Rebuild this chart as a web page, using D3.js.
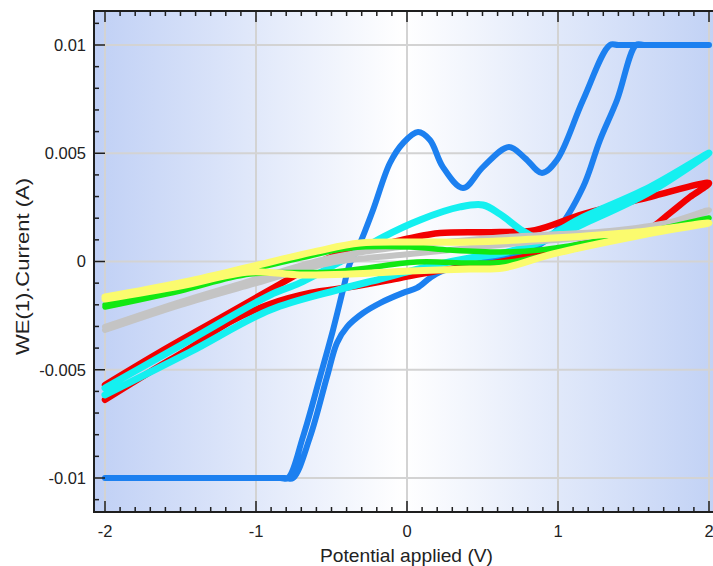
<!DOCTYPE html>
<html><head><meta charset="utf-8">
<script src="https://cdn.jsdelivr.net/npm/d3@7"></script>
<style>body{margin:0;background:#fff}svg{display:block}</style>
</head><body>
<svg id="chart" width="713" height="566"></svg>
<script>
// ---- data (Potential V, Current A), each series is one closed CV loop ----
const blueV = [-2.000,-0.841,-0.788,-0.689,-0.576,-0.490,-0.424,-0.377,-0.311,-0.225,-0.113,-0.026,0.073,0.152,0.238,0.371,0.503,0.675,0.781,0.894,0.993,1.166,1.344,1.400,2.000,
               1.570,1.517,1.391,1.278,1.166,0.993,0.815,0.616,0.417,0.219,0.152,0.066,-0.026,-0.179,-0.291,-0.397,-0.464,-0.530,-0.642,-0.755,-0.808,-2.000];
const blueI = [-0.0100,-0.0100,-0.0100,-0.00810,-0.00533,-0.00316,-0.00132,-0.00007,0.00085,0.00238,0.00455,0.00547,0.00598,0.00561,0.00436,0.00339,0.00436,0.00529,0.00478,0.00409,0.00469,0.00746,0.0100,0.0100,0.0100,
               0.0100,0.0100,0.00746,0.00561,0.00344,0.00145,0.00053,0.00016,-0.00016,-0.00048,-0.00076,-0.00122,-0.00145,-0.00192,-0.00238,-0.00302,-0.00376,-0.00533,-0.00810,-0.0100,-0.0100,-0.0100];

const redV = [-2.000,-1.636,-1.238,-0.841,-0.576,-0.377,-0.179,0.020,0.219,0.616,0.848,1.166,1.609,2.000,
              1.874,1.742,1.589,1.344,1.079,0.748,0.530,0.238,-0.046,-0.377,-0.642,-0.907,-1.172,-1.437,-1.702,-2.000];
const redI = [-0.00570,-0.00418,-0.00261,-0.00104,-0.00002,0.00053,0.00076,0.00108,0.00132,0.00136,0.00145,0.00219,0.00298,0.00362,
              0.00298,0.00224,0.00145,0.00113,0.00067,0.00016,-0.00012,-0.00039,-0.00076,-0.00118,-0.00145,-0.00196,-0.00279,-0.00399,-0.00510,-0.00639];

const cyanV = [-2.000,-1.437,-0.907,-0.709,-0.444,-0.159,0.086,0.351,0.503,0.616,0.768,0.881,1.166,1.609,2.000,
               1.609,1.166,0.927,0.636,0.417,0.152,-0.026,-0.179,-0.464,-0.907,-1.437,-2.000];
const cyanI = [-0.00584,-0.00363,-0.00155,-0.00099,-0.00002,0.00113,0.00192,0.00252,0.00261,0.00219,0.00141,0.00108,0.00205,0.00344,0.00501,
               0.00321,0.00173,0.00099,0.00039,0.00016,-0.00021,-0.00053,-0.00081,-0.00132,-0.00224,-0.00418,-0.00616];

const grayV = [-2.000,-1.503,-1.040,-0.510,-0.046,0.550,1.013,1.344,1.742,2.000,
               1.742,1.278,0.748,0.285,-0.046,-0.510,-1.040,-1.503,-2.000];
const grayI = [-0.00302,-0.00187,-0.00090,0.00016,0.00067,0.00108,0.00127,0.00141,0.00182,0.00238,
               0.00159,0.00118,0.00085,0.00053,0.00030,-0.00007,-0.00108,-0.00201,-0.00316];

const greenV = [-2.000,-1.503,-1.040,-0.709,-0.377,0.020,0.285,0.616,0.881,1.298,1.675,2.000,
                1.411,1.079,0.682,0.417,0.066,-0.490,-1.040,-1.503,-2.000];
const greenI = [-0.00201,-0.00122,-0.00039,0.00016,0.00062,0.00067,0.00053,0.00044,0.00053,0.00099,0.00150,0.00201,
                0.00108,0.00053,-0.00002,-0.00007,-0.00002,-0.00048,-0.00058,-0.00136,-0.00210];

const yellowV = [-2.000,-1.503,-1.040,-0.596,-0.311,0.020,0.417,0.967,1.523,2.000,
                 1.523,0.967,0.636,0.417,0.020,-0.377,-0.709,-1.040,-1.503,-2.000];
const yellowI = [-0.00164,-0.00099,-0.00025,0.00048,0.00085,0.00090,0.00090,0.00108,0.00136,0.00178,
                 0.00118,0.00035,-0.00030,-0.00035,-0.00044,-0.00058,-0.00062,-0.00048,-0.00113,-0.00173];

const xTickVals = [-2,-1,0,1,2];
const xTickLabels = ["-2","-1","0","1","2"];
const yTickVals = [0.01,0.005,0,-0.005,-0.01];
const yTickLabels = ["0.01","0.005","0","-0.005","-0.01"];
const xTitle = "Potential applied (V)";
const yTitle = "WE(1).Current (A)";

// ---- layout ----
const svg = d3.select("#chart");
const x = d3.scaleLinear().domain([-2,2]).range([105,709]);
const y = d3.scaleLinear().domain([-0.01,0.01]).range([478,45]);
const L = 94, R = 713, T = 11, B = 512;
const font = "'Liberation Sans', Arial, sans-serif";

const defs = svg.append("defs");
const grad = defs.append("linearGradient").attr("id","bg").attr("x1","0").attr("x2","1").attr("y1","0").attr("y2","0");
grad.append("stop").attr("offset","0%").attr("stop-color","#c0d0f5");
grad.append("stop").attr("offset","50%").attr("stop-color","#ffffff");
grad.append("stop").attr("offset","100%").attr("stop-color","#c2d2f5");
defs.append("clipPath").attr("id","clip").append("rect").attr("x",L).attr("y",T).attr("width",R-L).attr("height",B-T);

svg.append("rect").attr("x",L).attr("y",T).attr("width",R-L).attr("height",B-T).attr("fill","url(#bg)");

// grid
const g = svg.append("g");
g.selectAll(".gx").data(xTickVals).join("line")
  .attr("x1",d=>x(d)).attr("x2",d=>x(d)).attr("y1",T).attr("y2",B)
  .attr("stroke","#d3d3d3").attr("stroke-width",2);
g.selectAll(".gy").data(yTickVals).join("line")
  .attr("x1",L).attr("x2",R).attr("y1",d=>y(d)).attr("y2",d=>y(d))
  .attr("stroke","#d3d3d3").attr("stroke-width",2);

// series
const series = [
  {V:blueV, I:blueI, color:"#1c80f0", w:6},
  {V:redV, I:redI, color:"#f20000", w:6.5},
  {V:cyanV, I:cyanI, color:"#14f0f0", w:7},
  {V:grayV, I:grayI, color:"#c4c4c4", w:6},
  {V:greenV, I:greenI, color:"#12e812", w:5.5},
  {V:yellowV, I:yellowI, color:"#fbfb6e", w:7}
];
const line = d3.line().x(d=>x(d[0])).y(d=>y(d[1])).curve(d3.curveCatmullRom.alpha(0.5));
const lg = svg.append("g").attr("clip-path","url(#clip)");
series.forEach(s=>{
  const pts = s.V.map((v,i)=>[v,s.I[i]]);
  lg.append("path").attr("d",line(pts)).attr("fill","none")
    .attr("stroke",s.color).attr("stroke-width",s.w)
    .attr("stroke-linejoin","round").attr("stroke-linecap","round");
});

// frame
svg.append("path").attr("d",`M${R},${T}H${L}V${B}H${R}`).attr("fill","none").attr("stroke","#1e1e1e").attr("stroke-width",2);

// ticks
const xMinor = d3.range(-20,21).map(d=>d/10);
const yMinor = d3.range(-11,12).map(d=>d/1000);
const tg = svg.append("g").attr("stroke","#1e1e1e").attr("stroke-width",1.5);
xMinor.forEach(v=>{
  const major = Math.abs(v-Math.round(v))<1e-9;
  const len = major?11:5;
  tg.append("line").attr("x1",x(v)).attr("x2",x(v)).attr("y1",T).attr("y2",T+len);
  tg.append("line").attr("x1",x(v)).attr("x2",x(v)).attr("y1",B).attr("y2",B-len);
});
yMinor.forEach(v=>{
  const major = Math.abs(v*200-Math.round(v*200))<1e-9;
  const len = major?11:5;
  tg.append("line").attr("x1",L).attr("x2",L+len).attr("y1",y(v)).attr("y2",y(v));
});

// tick labels
svg.selectAll(".xl").data(xTickVals).join("text")
  .attr("x",d=>x(d)).attr("y",537).attr("text-anchor","middle")
  .attr("font-family",font).attr("font-size",16.5).attr("fill","#222")
  .text((d,i)=>xTickLabels[i]);
svg.selectAll(".yl").data(yTickVals).join("text")
  .attr("x",86).attr("y",d=>y(d)).attr("dy","0.36em").attr("text-anchor","end")
  .attr("font-family",font).attr("font-size",16.5).attr("fill","#222")
  .text((d,i)=>yTickLabels[i]);

// axis titles
svg.append("text").attr("x",406.5).attr("y",562).attr("text-anchor","middle")
  .attr("font-family",font).attr("font-size",19).attr("fill","#222")
  .attr("textLength",173).attr("lengthAdjust","spacingAndGlyphs").text(xTitle);
svg.append("text").attr("transform","translate(29,266.5) rotate(-90)").attr("text-anchor","middle")
  .attr("font-family",font).attr("font-size",19).attr("fill","#222")
  .attr("textLength",177).attr("lengthAdjust","spacingAndGlyphs").text(yTitle);
</script>
</body></html>
